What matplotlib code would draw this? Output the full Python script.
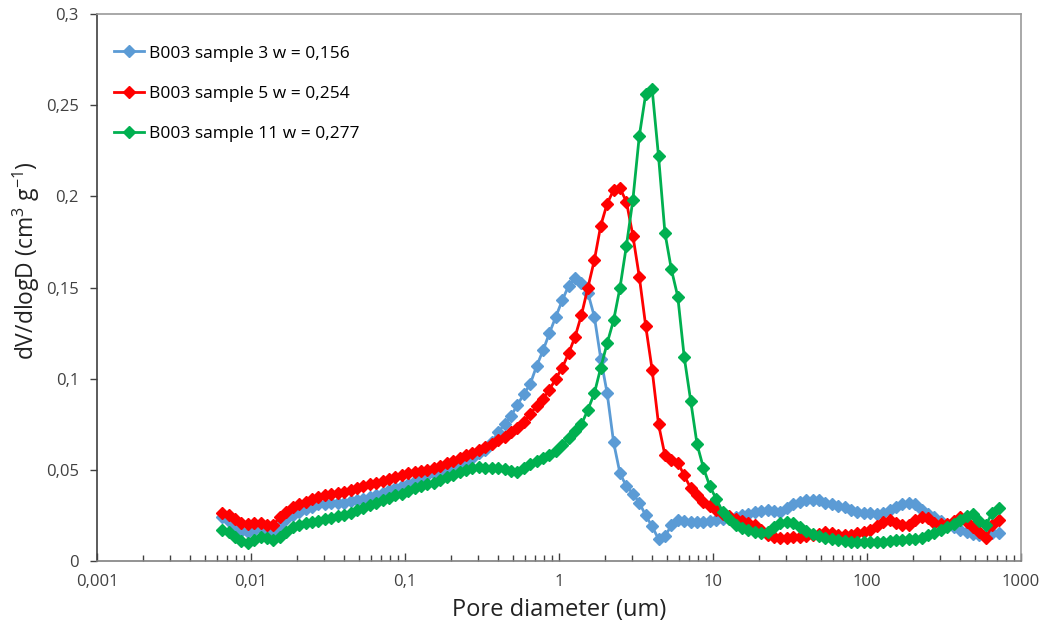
import matplotlib
matplotlib.use("Agg")
import matplotlib.pyplot as plt
from matplotlib.ticker import FixedLocator, LogLocator, NullFormatter

plt.rcParams["font.family"] = ["Open Sans", "DejaVu Sans"]
plt.rcParams["mathtext.fontset"] = "custom"
plt.rcParams["mathtext.rm"] = "Open Sans"

# pore diameters (um), shared by all three samples
diam = [
    0.0065, 0.00716, 0.00788, 0.00867, 0.00954, 0.0105, 0.01156, 0.01272,
    0.014, 0.01541, 0.01697, 0.01867, 0.02055, 0.02263, 0.0249, 0.02741,
    0.03017, 0.03321, 0.03655, 0.04023, 0.04429, 0.04874, 0.05365, 0.05906,
    0.065, 0.0716, 0.0788, 0.0867, 0.0954, 0.105, 0.1156, 0.1272,
    0.14, 0.1541, 0.1697, 0.1867, 0.2055, 0.2263, 0.249, 0.2741,
    0.3017, 0.3321, 0.3655, 0.4023, 0.4429, 0.4874, 0.5365, 0.5906,
    0.65, 0.716, 0.788, 0.867, 0.954, 1.05, 1.156, 1.272,
    1.40, 1.541, 1.697, 1.867, 2.055, 2.263, 2.49, 2.741,
    3.017, 3.321, 3.655, 4.023, 4.429, 4.874, 5.365, 5.906,
    6.5, 7.16, 7.88, 8.67, 9.54, 10.5, 11.56, 12.72,
    14.0, 15.41, 16.97, 18.67, 20.55, 22.63, 24.9, 27.41,
    30.17, 33.21, 36.55, 40.23, 44.29, 48.74, 53.65, 59.06,
    65.0, 71.6, 78.8, 86.7, 95.4, 105, 115.6, 127.2,
    140, 154.1, 169.7, 186.7, 205.5, 226.3, 249, 274.1,
    301.7, 332.1, 365.5, 402.3, 442.9, 487.4, 536.5, 590.6,
    650, 716,
]

s3 = [
    0.024, 0.022, 0.019, 0.0165, 0.016, 0.017, 0.018, 0.0165,
    0.016, 0.019, 0.023, 0.0255, 0.027, 0.0285, 0.0295, 0.031,
    0.0315, 0.032, 0.032, 0.032, 0.033, 0.0333, 0.034, 0.035,
    0.036, 0.0375, 0.039, 0.040, 0.041, 0.0425, 0.044, 0.0455,
    0.047, 0.0485, 0.049, 0.050, 0.051, 0.053, 0.0535, 0.0565,
    0.059, 0.061, 0.065, 0.0705, 0.075, 0.0795, 0.0855, 0.0915,
    0.097, 0.107, 0.1155, 0.125, 0.134, 0.143, 0.151, 0.155,
    0.1525, 0.147, 0.134, 0.111, 0.092, 0.065, 0.048, 0.041,
    0.037, 0.032, 0.025, 0.019, 0.012, 0.0135, 0.0195, 0.0225,
    0.022, 0.0215, 0.0215, 0.0215, 0.022, 0.0225, 0.023, 0.0235,
    0.024, 0.025, 0.026, 0.027, 0.0275, 0.028, 0.0275, 0.027,
    0.029, 0.031, 0.0325, 0.0333, 0.0335, 0.0335, 0.032, 0.031,
    0.030, 0.0295, 0.028, 0.027, 0.0265, 0.0263, 0.026, 0.0265,
    0.028, 0.0295, 0.031, 0.0318, 0.031, 0.028, 0.026, 0.024,
    0.022, 0.020, 0.0185, 0.017, 0.016, 0.0148, 0.014, 0.015,
    0.0155, 0.0155,
]

s5 = [
    0.0265, 0.025, 0.023, 0.021, 0.0205, 0.021, 0.021, 0.020,
    0.020, 0.024, 0.027, 0.0295, 0.031, 0.0325, 0.034, 0.035,
    0.036, 0.0365, 0.0372, 0.038, 0.039, 0.040, 0.041, 0.042,
    0.043, 0.044, 0.045, 0.046, 0.047, 0.048, 0.049, 0.0495,
    0.050, 0.051, 0.052, 0.0535, 0.055, 0.0565, 0.058, 0.0595,
    0.061, 0.0625, 0.064, 0.0665, 0.068, 0.0705, 0.073, 0.076,
    0.0805, 0.085, 0.089, 0.094, 0.100, 0.106, 0.114, 0.123,
    0.135, 0.150, 0.165, 0.184, 0.196, 0.2035, 0.2045, 0.197,
    0.1785, 0.156, 0.129, 0.105, 0.075, 0.058, 0.0555, 0.054,
    0.047, 0.040, 0.036, 0.0325, 0.030, 0.028, 0.026, 0.0245,
    0.023, 0.022, 0.021, 0.0195, 0.017, 0.014, 0.013, 0.0125,
    0.0128, 0.013, 0.013, 0.0135, 0.0145, 0.015, 0.016, 0.0155,
    0.0145, 0.014, 0.0143, 0.0155, 0.016, 0.017, 0.019, 0.0215,
    0.0225, 0.021, 0.0195, 0.020, 0.0225, 0.024, 0.0235, 0.021,
    0.0205, 0.0205, 0.022, 0.024, 0.0215, 0.0185, 0.016, 0.0125,
    0.0195, 0.0225,
]

s11 = [
    0.017, 0.016, 0.013, 0.011, 0.010, 0.0115, 0.013, 0.0125,
    0.0115, 0.013, 0.016, 0.0185, 0.020, 0.021, 0.0215, 0.022,
    0.023, 0.0236, 0.0245, 0.0255, 0.0265, 0.028, 0.029, 0.0305,
    0.032, 0.0333, 0.0348, 0.036, 0.037, 0.0385, 0.040, 0.041,
    0.042, 0.043, 0.0445, 0.046, 0.047, 0.049, 0.050, 0.051,
    0.0515, 0.0512, 0.051, 0.051, 0.0505, 0.0495, 0.049, 0.051,
    0.053, 0.055, 0.0565, 0.058, 0.0605, 0.0635, 0.0675, 0.0715,
    0.075, 0.083, 0.092, 0.106, 0.1195, 0.132, 0.150, 0.173,
    0.198, 0.233, 0.256, 0.259, 0.222, 0.180, 0.160, 0.145,
    0.112, 0.088, 0.064, 0.051, 0.041, 0.034, 0.027, 0.023,
    0.0195, 0.018, 0.0168, 0.016, 0.0155, 0.016, 0.0185, 0.021,
    0.0215, 0.021, 0.0186, 0.0165, 0.0148, 0.0135, 0.0127, 0.012,
    0.0115, 0.011, 0.0105, 0.0104, 0.0103, 0.0103, 0.0104, 0.0105,
    0.011, 0.0113, 0.0115, 0.012, 0.0123, 0.0128, 0.014, 0.0155,
    0.017, 0.0185, 0.0205, 0.0225, 0.0245, 0.026, 0.022, 0.0195,
    0.0265, 0.029,
]

series = [
    ("B003 sample 3 w = 0,156", s3, "#5B9BD5"),
    ("B003 sample 5 w = 0,254", s5, "#FF0000"),
    ("B003 sample 11 w = 0,277", s11, "#00B050"),
]

x_ticks = [0.001, 0.01, 0.1, 1, 10, 100, 1000]
x_labels = ["0,001", "0,01", "0,1", "1", "10", "100", "1000"]
y_ticks = [0, 0.05, 0.1, 0.15, 0.2, 0.25, 0.3]
y_labels = ["0", "0,05", "0,1", "0,15", "0,2", "0,25", "0,3"]

fig = plt.figure(figsize=(10.55, 6.29), dpi=100)
ax = fig.add_axes([0.0919, 0.1081, 0.8759, 0.8696])

for name, vals, col in series:
    ax.plot(diam, vals, color=col, lw=2.0, marker="D", ms=6.5,
            mec=col, mfc=col, label=name)

ax.set_xscale("log")
ax.set_xlim(0.001, 1000)
ax.set_ylim(0, 0.3)
ax.xaxis.set_major_locator(FixedLocator(x_ticks))
ax.set_xticklabels(x_labels)
ax.xaxis.set_minor_locator(LogLocator(base=10, subs=range(2, 10), numticks=20))
ax.xaxis.set_minor_formatter(NullFormatter())
ax.set_yticks(y_ticks)
ax.set_yticklabels(y_labels)

ax.tick_params(axis="x", which="major", direction="in", length=6, width=1,
               color="#404040", labelsize=12, pad=9, labelcolor="#404040")
ax.tick_params(axis="x", which="minor", direction="in", length=4, width=1,
               color="#404040")
ax.tick_params(axis="y", direction="out", length=5, width=1, color="#404040",
               labelsize=12, pad=8, labelcolor="#404040")

ax.spines["left"].set_color("#404040")
ax.spines["bottom"].set_color("#808080")
ax.spines["top"].set_color("#9A9A9A")
ax.spines["right"].set_color("#9A9A9A")
for sp in ax.spines.values():
    sp.set_linewidth(1.2)

ax.set_xlabel("Pore diameter (um)", fontsize=17, color="#222222", labelpad=6)
ax.set_ylabel(r"dV/dlogD (cm$^3$ g$^{-1}$)", fontsize=16.5, color="#222222")
ax.yaxis.set_label_coords(-0.059, 0.55)

ax.legend(loc="upper left", frameon=False, fontsize=12.5, handlelength=1.75,
          handletextpad=0.3, labelspacing=1.4, borderaxespad=0.4,
          bbox_to_anchor=(0.003, 0.968))

fig.savefig("out.png", dpi=100)
